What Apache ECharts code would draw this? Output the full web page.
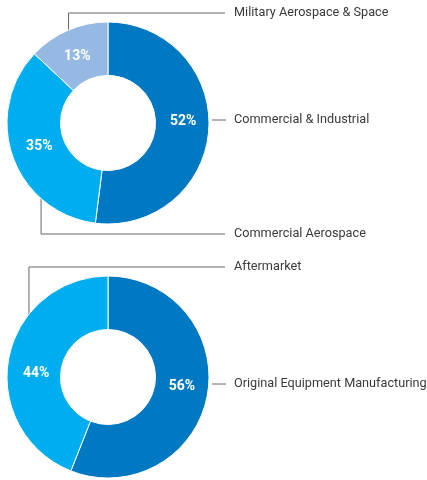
<!DOCTYPE html>
<html>
<head>
<meta charset="utf-8">
<script src="https://cdn.jsdelivr.net/npm/echarts@6/dist/echarts.min.js"></script>
<style>
html,body{margin:0;padding:0;background:#fff;}
#chart{width:427px;height:480px;}
</style>
</head>
<body>
<div id="chart"></div>
<script>
// ---- data ----
var segmentNames = ['Commercial & Industrial', 'Commercial Aerospace', 'Military Aerospace & Space'];
var segmentValues = [52, 35, 13];
var channelNames = ['Original Equipment Manufacturing', 'Aftermarket'];
var channelValues = [56, 44];

// ---- style / layout ----
var colorsTop = ['#0079C2', '#00AEEF', '#95B9E2'];
var colorsBottom = ['#0079C2', '#00AEEF'];
var NAME_FONT = 'Roboto, "DejaVu Sans Condensed", sans-serif';
var PCT_FONT = 'Roboto, "DejaVu Sans Condensed", sans-serif';
var CX = 108, R_IN = 47.5, R_OUT = 101;
var CY_TOP = 123, CY_BOT = 377;
var LABEL_X = 234, LINE_END = 225;
// label y and leader anchor (angle clockwise from 12 o'clock, degrees; null = right side short line)
var topLabelY = [120, 234, 13];
var topAnchor = [null, 221.5, 337];
var botLabelY = [384, 267];
var botAnchor = [null, 308.5];
// small nudges of the inside percentage labels
var topNudge = [[-2, -6], [4, -3], [0, 4]];
var botNudge = [[-2, -5], [4, 11]];

function buildData(names, values, colors) {
  return names.map(function (n, i) {
    return { name: n, value: values[i], itemStyle: { color: colors[i] } };
  });
}

function outsideLayout(cy, labelY, anchor) {
  return function (params) {
    var i = params.dataIndex;
    var y = labelY[i];
    var pts;
    if (anchor[i] === null) {
      pts = [[CX + R_OUT + 3, y], [CX + R_OUT + 3, y], [LINE_END + 1, y]];
    } else {
      var a = anchor[i] * Math.PI / 180;
      var ex = CX + R_OUT * Math.sin(a);
      var ey = cy - R_OUT * Math.cos(a);
      pts = [[ex, ey], [ex, y], [LINE_END, y]];
    }
    return { x: LABEL_X, y: y, align: 'left', verticalAlign: 'middle', labelLinePoints: pts };
  };
}

function ringSeries(cy, data, nudge) {
  return {
    type: 'pie',
    center: [CX, cy],
    radius: [R_IN, R_OUT],
    startAngle: 90,
    clockwise: true,
    silent: true,
    animation: false,
    avoidLabelOverlap: false,
    itemStyle: { borderColor: '#fff', borderWidth: 1 },
    label: {
      show: true,
      position: 'inside',
      formatter: '{c}%',
      color: '#fff',
      fontFamily: PCT_FONT,
      fontWeight: 'bold',
      fontSize: 14
    },
    labelLine: { show: false },
    labelLayout: function (params) {
      var n = nudge[params.dataIndex];
      return { dx: n[0], dy: n[1] };
    },
    data: data
  };
}

function nameSeries(cy, data, labelY, anchor) {
  return {
    type: 'pie',
    center: [CX, cy],
    radius: [R_IN, R_OUT],
    startAngle: 90,
    clockwise: true,
    silent: true,
    animation: false,
    avoidLabelOverlap: false,
    itemStyle: { color: 'transparent', borderWidth: 0 },
    label: {
      show: true,
      position: 'outside',
      formatter: '{b}',
      color: '#3a3a3a',
      fontFamily: NAME_FONT,
      fontSize: 12.7
    },
    labelLine: { show: true, lineStyle: { color: '#666', width: 1 } },
    labelLayout: outsideLayout(cy, labelY, anchor),
    data: data.map(function (d) { return { name: d.name, value: d.value }; })
  };
}

var topData = buildData(segmentNames, segmentValues, colorsTop);
var botData = buildData(channelNames, channelValues, colorsBottom);

var chart = echarts.init(document.getElementById('chart'), null, { renderer: 'canvas' });
chart.setOption({
  backgroundColor: '#fff',
  series: [
    ringSeries(CY_TOP, topData, topNudge),
    nameSeries(CY_TOP, topData, topLabelY, topAnchor),
    ringSeries(CY_BOT, botData, botNudge),
    nameSeries(CY_BOT, botData, botLabelY, botAnchor)
  ]
});
</script>
</body>
</html>
